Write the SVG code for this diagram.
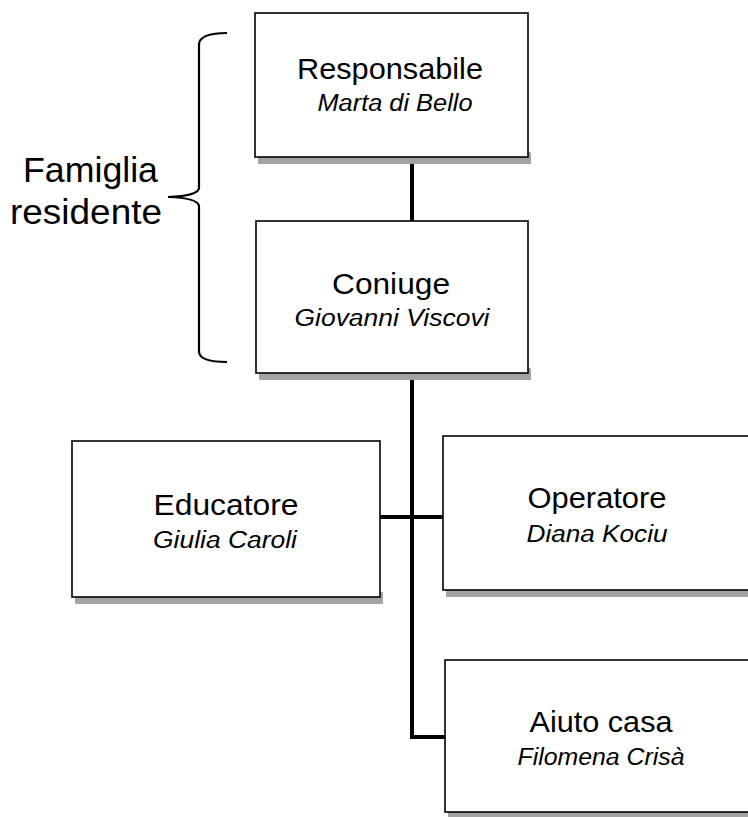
<svg xmlns="http://www.w3.org/2000/svg" width="748" height="817" viewBox="0 0 748 817">
<style>
.box{fill:#fff;stroke:#000;stroke-width:1.6}
.sh{fill:#a3a3a3}
.t{font-family:"Liberation Sans",Arial,sans-serif;font-size:29px;fill:#000;text-anchor:middle}
.n{font-family:"Liberation Sans",Arial,sans-serif;font-size:23px;font-style:italic;fill:#000;text-anchor:middle}
.lab{font-family:"Liberation Sans",Arial,sans-serif;font-size:35px;fill:#000}
.con{fill:none;stroke:#000;stroke-width:4}
.brace{fill:none;stroke:#000;stroke-width:2.2}
</style>
<rect width="748" height="817" fill="#fff"/>
<g id="connectors">
<path class="con" d="M412,157 V221"/>
<path class="con" d="M412,373 V737 H445"/>
<path class="con" d="M380,517 H443"/>
</g>
<g id="responsabile">
<rect class="sh" x="258" y="152" width="273" height="12"/>
<rect class="box" x="255" y="13" width="273" height="144"/>
<text class="t" x="390" y="79" textLength="186" lengthAdjust="spacingAndGlyphs">Responsabile</text>
<text class="n" x="395" y="111" textLength="155" lengthAdjust="spacingAndGlyphs">Marta di Bello</text>
</g>
<g id="coniuge">
<rect class="sh" x="259" y="368" width="272" height="12"/>
<rect class="box" x="256" y="221" width="272" height="152"/>
<text class="t" x="391" y="294" textLength="118" lengthAdjust="spacingAndGlyphs">Coniuge</text>
<text class="n" x="392" y="326" textLength="195" lengthAdjust="spacingAndGlyphs">Giovanni Viscovi</text>
</g>
<g id="educatore">
<rect class="sh" x="75" y="592" width="308" height="12"/>
<rect class="box" x="72" y="441" width="308" height="156"/>
<text class="t" x="226" y="515" textLength="145" lengthAdjust="spacingAndGlyphs">Educatore</text>
<text class="n" x="225" y="548" textLength="144" lengthAdjust="spacingAndGlyphs">Giulia Caroli</text>
</g>
<g id="operatore">
<rect class="sh" x="446" y="585" width="308" height="12"/>
<rect class="box" x="443" y="436" width="308" height="154"/>
<text class="t" x="597" y="508" textLength="139" lengthAdjust="spacingAndGlyphs">Operatore</text>
<text class="n" x="597" y="542" textLength="141" lengthAdjust="spacingAndGlyphs">Diana Kociu</text>
</g>
<g id="aiuto-casa">
<rect class="sh" x="448" y="809" width="310" height="8"/>
<rect class="box" x="445" y="660" width="312" height="152"/>
<text class="t" x="601" y="732" textLength="143" lengthAdjust="spacingAndGlyphs">Aiuto casa</text>
<text class="n" x="601" y="765" textLength="167" lengthAdjust="spacingAndGlyphs">Filomena Crisà</text>
</g>
<g id="famiglia-residente">
<path class="brace" d="M227,33 Q200,33 199,44 L199,188 Q198,196 168,197 Q198,198 199,206 L199,352 Q200,362 227,362"/>
<text class="lab" x="158" y="182" text-anchor="end" textLength="135" lengthAdjust="spacingAndGlyphs">Famiglia</text>
<text class="lab" x="162" y="224" text-anchor="end" textLength="152" lengthAdjust="spacingAndGlyphs">residente</text>
</g>
</svg>
